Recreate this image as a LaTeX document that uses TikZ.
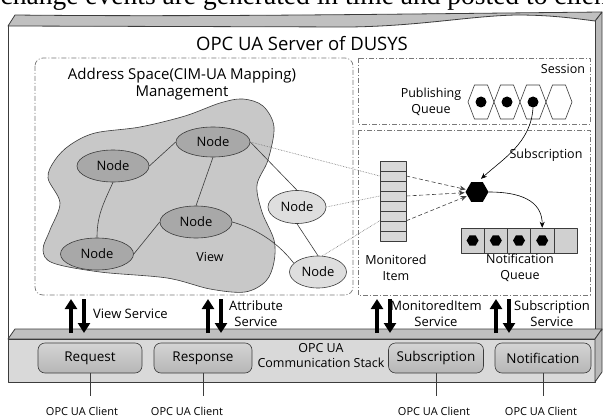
\documentclass[tikz,border=0pt]{standalone}
\usepackage{fontspec}
\setmainfont{Open Sans}
\newfontfamily\bodyserif{Liberation Serif}
\usetikzlibrary{shapes.geometric,arrows.meta,calc}
\definecolor{topface}{RGB}{192,192,192}
\definecolor{sideface}{RGB}{185,185,185}
\definecolor{blobfill}{RGB}{200,200,200}
\definecolor{nodedark}{RGB}{168,168,168}
\definecolor{nodelight}{RGB}{222,222,222}
\definecolor{cellfill}{RGB}{216,216,216}
\definecolor{queuefill}{RGB}{208,208,208}
\definecolor{barfront}{RGB}{217,217,217}
\definecolor{boxtop}{RGB}{212,212,212}
\definecolor{boxbottom}{RGB}{182,182,182}
\definecolor{linegray}{RGB}{60,60,60}
\definecolor{dashgray}{RGB}{120,120,120}
\begin{document}
\begin{tikzpicture}[x=1pt,y=-1pt,line join=round,
  facestyle/.style={draw=linegray,line width=0.8pt},
  edgeline/.style={draw=linegray,line width=0.6pt},
  darknode/.style={ellipse,draw=linegray,fill=nodedark,line width=0.6pt,inner sep=0pt,font=\fontsize{13}{14}\selectfont},
  lightnode/.style={ellipse,draw=linegray,fill=nodelight,line width=0.6pt,inner sep=0pt,font=\fontsize{13}{14}\selectfont},
  dashbox/.style={draw=dashgray,line width=0.7pt,dash pattern=on 5pt off 2pt on 1pt off 2pt},
  micell/.style={rectangle,draw=linegray,fill=cellfill,minimum width=26pt,minimum height=10pt,inner sep=0pt,line width=0.5pt},
  qcell/.style={rectangle,draw=linegray,fill=queuefill,minimum width=23.2pt,minimum height=25pt,inner sep=0pt,line width=0.5pt},
  hexdot/.style={regular polygon,regular polygon sides=6,fill=black,inner sep=0pt,minimum size=12pt},
  pubdot/.style={circle,fill=black,inner sep=0pt,minimum size=11pt},
  hexline/.style={draw=linegray,fill=white,line width=0.6pt},
  lbl/.style={align=center,inner sep=0pt,font=\fontsize{12.5}{16}\selectfont},
  svc/.style={align=center,inner sep=0pt,font=\fontsize{13}{16}\selectfont},
  clientlbl/.style={inner sep=0pt,font=\fontsize{11}{13}\selectfont},
  stackbox/.style={rectangle,draw=linegray,top color=boxtop,bottom color=boxbottom,rounded corners=7pt,minimum height=30pt,inner sep=0pt,line width=0.6pt,font=\fontsize{13.5}{16}\selectfont},
  bigarrow/.style={line width=3.2pt,-{Triangle[length=10pt,width=12pt]}},
  flowarrow/.style={draw=black,line width=0.6pt,-{Stealth[length=6pt,width=5pt]}},
  dotline/.style={draw=black!55,line width=0.6pt,densely dotted},
  dasharrow/.style={draw=black!75,line width=0.6pt,dash pattern=on 4pt off 2.5pt,-{Stealth[length=6pt,width=5pt]},shorten >=1pt}
]
\useasboundingbox (0,0) rectangle (603,420);

% clipped body text above the figure
\node[anchor=base west,inner sep=0pt,font=\bodyserif\fontsize{27.5}{30}\selectfont] (bodytext) at (0.5,5) {change events are generated in time and posted to client};

% ---------- server box (3D) ----------
\draw[facestyle,fill=sideface] (595,21) -- (602,12) -- (602,330) -- (595,339) -- cycle;
\fill[white] (8,26) -- (350,27) .. controls (420,26) and (470,16) .. (516,15) .. controls (545,15) and (565,17) .. (595,21) -- (595,339) -- (8,339) -- cycle;
\draw[facestyle] (8,26) -- (8,339);
\draw[facestyle] (595,21) -- (595,339);
\draw[facestyle,fill=topface] (8,26) -- (15,15) .. controls (200,17) and (400,14) .. (602,12) -- (595,21) .. controls (565,17) and (545,15) .. (516,15) .. controls (470,16) and (420,26) .. (350,27) -- cycle;

\node[inner sep=0pt,font=\fontsize{18.5}{20}\selectfont] (title) at (302,44) {OPC UA Server of DUSYS};

% ---------- dashed regions ----------
\draw[dashbox,rounded corners=8pt] (35,58) rectangle (353,295);
\draw[dashbox] (358,58) rectangle (590,124);
\draw[dashbox] (358,130) rectangle (590,295);

\node[inner sep=0pt,align=center,font=\fontsize{15}{17}\selectfont] (astitle) at (182,84) {Address Space(CIM-UA Mapping)\\Management};
\node[lbl] (session) at (563,69) {Session};
\node[lbl] (publbl) at (431,102) {Publishing\\Queue};

% ---------- view blob ----------
\draw[edgeline,fill=blobfill] plot[smooth cycle,tension=0.55] coordinates {
 (95,133) (140,127) (185,116) (220,103) (243,99) (263,106) (274,127) (268,160) (257,185)
 (262,212) (274,240) (274,262) (266,281) (245,292) (210,289) (167,278) (100,272) (53,263)
 (43,250) (50,230) (60,203) (48,178) (55,160) (70,145)};
\node[lbl] (viewlbl) at (210,257) {View};

% ---------- nodes ----------
\node[darknode,minimum width=74pt,minimum height=30pt] (nA) at (213,142) {Node};
\node[darknode,minimum width=72pt,minimum height=32pt] (nB) at (113,166) {Node};
\node[darknode,minimum width=72pt,minimum height=32pt] (nC) at (196,222) {Node};
\node[darknode,minimum width=73pt,minimum height=32pt] (nD) at (97,254) {Node};
\node[lightnode,minimum width=58pt,minimum height=33pt] (nE) at (297,207) {Node};
\node[lightnode,minimum width=57pt,minimum height=32pt] (nF) at (318,272) {Node};

\draw[edgeline] (nB.east) -- (nA.west);
\draw[edgeline] (nA.south) -- (nC.north);
\draw[edgeline] (nB.south) .. controls +(-10,22) and +(0,-22) .. (nD.north);
\draw[edgeline] (nD.east) -- (nC.west);
\draw[edgeline] (nA.east) -- (nE.north);
\draw[edgeline] (nC.east) .. controls +(28,8) and +(-14,-18) .. (nF.160);
\draw[edgeline] (nE.south) -- (nF.north);

% ---------- monitored item ----------
\foreach \i in {1,...,8} { \node[micell] (mi\i) at (393,{156+10*\i}) {}; }
\node[lbl] (milbl) at (396,268) {Monitored\\Item};

\draw[dotline] (nA.east) -- (mi2.west);
\draw[dotline] (nE.east) -- (mi4.west);
\draw[dotline] (nF.75) -- (mi7.north west);

% subscription hexagon
\node[hexdot,minimum size=23pt] (hex) at (477,192) {};
\draw[dasharrow] (mi2.east) -- (hex);
\draw[dasharrow] (mi4.east) -- (hex);
\draw[dasharrow] (mi7.north east) -- (hex);

% ---------- publishing queue ----------
\foreach \c in {481,507,533,559} {
  \draw[hexline] ({\c-13},102) -- ({\c-6.5},85) -- ({\c+6.5},85) -- ({\c+13},102) -- ({\c+6.5},119) -- ({\c-6.5},119) -- cycle;
}
\node[pubdot] (pd1) at (481,102) {};
\node[pubdot] (pd2) at (507,102) {};
\node[pubdot] (pd3) at (533,102) {};

\draw[flowarrow] (pd3.south) .. controls +(-2,35) and +(22,-20) .. ([xshift=4pt,yshift=3pt]hex.north);
\node[lbl] (sublbl) at (546,155) {Subscription};

% ---------- notification queue ----------
\foreach \i/\xx in {1/472.6,2/495.8,3/519,4/542.2,5/565.4} { \node[qcell] (q\i) at (\xx,240.5) {}; }
\foreach \i in {1,...,4} { \node[hexdot] (qd\i) at (q\i) {}; }
\node[lbl] (nqlbl) at (520,268) {Notification\\Queue};
\draw[flowarrow] (hex.east) .. controls +(40,0) and +(0,-22) .. (q4.north);

% ---------- communication stack bar ----------
\draw[facestyle,fill=topface] (8,339) -- (15,329) -- (602,329) -- (595,339) -- cycle;
\draw[facestyle,fill=barfront] (8,339) rectangle (595,382);
\draw[facestyle,fill=sideface] (595,339) -- (602,329) -- (602,372) -- (595,382) -- cycle;

\node[stackbox,minimum width=104pt] (req) at (90,358) {Request};
\node[stackbox,minimum width=98pt] (resp) at (203,358) {Response};
\node[stackbox,minimum width=95pt] (subs) at (436,358) {Subscription};
\node[stackbox,minimum width=96pt] (notif) at (543,358) {Notification};
\node[inner sep=0pt,align=center,font=\fontsize{12.5}{15}\selectfont] (stacklbl) at (321,356) {OPC UA\\Communication Stack};

% service arrows
\foreach \xu/\xd/\n in {71/84/a,208/221/b,377/390/c,496/509/d} {
  \coordinate (up\n b) at (\xu,333); \coordinate (up\n t) at (\xu,299);
  \coordinate (dn\n t) at (\xd,299); \coordinate (dn\n b) at (\xd,333);
  \draw[bigarrow] (up\n b) -- (up\n t);
  \draw[bigarrow] (dn\n t) -- (dn\n b);
}
\node[svc,anchor=west] (vslbl) at (93,314) {View Service};
\node[svc] (aslbl) at (256,314) {Attribute\\Service};
\node[svc] (mslbl) at (436,314) {MonitoredItem\\Service};
\node[svc] (sslbl) at (552,314) {Subscription\\Service};

% clients
\coordinate (cl1) at (90,396);
\coordinate (cl2) at (203,396);
\coordinate (cl3) at (436,396);
\coordinate (cl4) at (543,396);
\draw[edgeline] (req.south) -- (cl1);
\draw[edgeline] (resp.south) -- (cl2);
\draw[edgeline] (subs.south) -- (cl3);
\draw[edgeline] (notif.south) -- (cl4);
\node[clientlbl] (ct1) at (82,411) {OPC UA Client};
\node[clientlbl] (ct2) at (187,411) {OPC UA Client};
\node[clientlbl] (ct3) at (434,411) {OPC UA Client};
\node[clientlbl] (ct4) at (541,411) {OPC UA Client};
\end{tikzpicture}
\end{document}
